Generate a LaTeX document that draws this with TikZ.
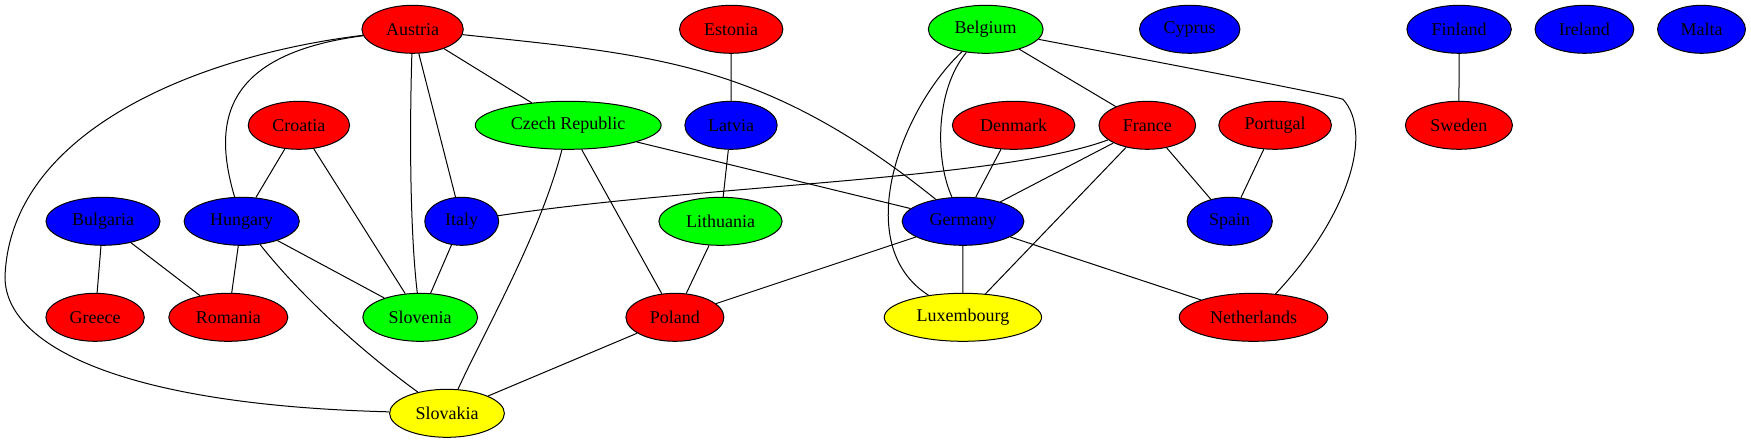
\documentclass[tikz,border=0pt]{standalone}
\usepackage{fontspec}
\setmainfont{Liberation Serif}
\usetikzlibrary{shapes.geometric}
\definecolor{CRed}{HTML}{FF0000}
\definecolor{CBlue}{HTML}{0000FF}
\definecolor{CGreen}{HTML}{00FF00}
\definecolor{CYellow}{HTML}{FFFF00}
\tikzset{
 country/.style={ellipse, draw=black, line width=0.75pt, inner sep=0pt, minimum height=36pt, font=\fontsize{13.5}{16}\selectfont},
 rednode/.style={country, fill=CRed},
 bluenode/.style={country, fill=CBlue},
 greennode/.style={country, fill=CGreen},
 yellownode/.style={country, fill=CYellow},
 edge/.style={draw=black, line width=0.75pt}
}
\begin{document}
\begin{tikzpicture}[x=0.75pt,y=-0.75pt]
\useasboundingbox (0,0) rectangle (1751,443);
% first row
\node[rednode, minimum width=76pt] (Austria) at (412.6,29.3) {Austria};
\node[rednode, minimum width=77.5pt] (Estonia) at (731.2,29.3) {Estonia};
\node[greennode, minimum width=86.1pt] (Belgium) at (985.7,29.3) {Belgium};
\node[bluenode, minimum width=75.3pt] (Cyprus) at (1189.7,29.3) {Cyprus};
\node[bluenode, minimum width=78.3pt] (Finland) at (1459.1,29.3) {Finland};
\node[bluenode, minimum width=74.1pt] (Ireland) at (1584.4,29.3) {Ireland};
\node[bluenode, minimum width=65.9pt] (Malta) at (1701.5,29.3) {Malta};
% second row
\node[rednode, minimum width=76pt] (Croatia) at (298.9,125.3) {Croatia};
\node[greennode, minimum width=139.4pt] (CzechRepublic) at (568.2,125.3) {Czech Republic};
\node[bluenode, minimum width=69.2pt] (Latvia) at (731,125.3) {Latvia};
\node[rednode, minimum width=91.9pt] (Denmark) at (1013.6,125.3) {Denmark};
\node[rednode, minimum width=72.5pt] (France) at (1147.3,125.3) {France};
\node[rednode, minimum width=84.5pt] (Portugal) at (1275.1,125.3) {Portugal};
\node[rednode, minimum width=80.3pt] (Sweden) at (1458.9,125.3) {Sweden};
% third row
\node[bluenode, minimum width=85.5pt] (Bulgaria) at (103,221.3) {Bulgaria};
\node[bluenode, minimum width=86.4pt] (Hungary) at (241.7,221.3) {Hungary};
\node[bluenode, minimum width=55.4pt] (Italy) at (461.7,221.3) {Italy};
\node[greennode, minimum width=92.4pt] (Lithuania) at (720.5,221.3) {Lithuania};
\node[bluenode, minimum width=91.3pt] (Germany) at (963,221.3) {Germany};
\node[bluenode, minimum width=63.9pt] (Spain) at (1229.7,221.3) {Spain};
% fourth row
\node[rednode, minimum width=73.8pt] (Greece) at (95.1,317.3) {Greece};
\node[rednode, minimum width=89.3pt] (Romania) at (228.3,317.3) {Romania};
\node[greennode, minimum width=86.1pt] (Slovenia) at (420.2,317.3) {Slovenia};
\node[rednode, minimum width=73.5pt] (Poland) at (674.9,317.3) {Poland};
\node[yellownode, minimum width=118pt] (Luxembourg) at (962.9,317.3) {Luxembourg};
\node[rednode, minimum width=111.4pt] (Netherlands) at (1253.5,317.3) {Netherlands};
% fifth row
\node[yellownode, minimum width=86.1pt] (Slovakia) at (447,413.3) {Slovakia};
% straight borders
\foreach \a/\b in {Austria/CzechRepublic, Austria/Italy, Croatia/Hungary, Croatia/Slovenia,
  CzechRepublic/Germany, CzechRepublic/Poland, Bulgaria/Greece, Bulgaria/Romania,
  Hungary/Romania, Hungary/Slovenia, Italy/Slovenia, Estonia/Latvia, Latvia/Lithuania,
  Lithuania/Poland, Poland/Slovakia, Poland/Germany, Belgium/France, Denmark/Germany,
  France/Germany, France/Luxembourg, France/Spain, Portugal/Spain, Germany/Luxembourg,
  Germany/Netherlands, Finland/Sweden}
  \draw[edge] (\a) -- (\b);
% curved borders
\draw[edge] (Austria) .. controls (200,55) and (10,130) .. (5,277) .. controls (5,345) and (120,405) .. (Slovakia);
\draw[edge] (Austria) .. controls (215,55) and (215,130) .. (Hungary);
\draw[edge] (Austria) .. controls (409,150) and (411,240) .. (Slovenia);
\draw[edge] (Austria) .. controls (653,55) and (764,61) .. (Germany);
\draw[edge] (CzechRepublic) .. controls (540,235) and (485,330) .. (Slovakia);
\draw[edge] (Hungary) .. controls (300,295) and (360,350) .. (Slovakia);
\draw[edge] (France) .. controls (1000,180) and (700,185) .. (Italy);
\draw[edge] (Belgium) .. controls (935,90) and (935,160) .. (Germany);
\draw[edge] (Belgium) .. controls (900,110) and (850,245) .. (Luxembourg);
\draw[edge] (Belgium) .. controls (1200,70) and (1330,95) .. (1343,99.3) .. controls (1375,135) and (1345,220) .. (Netherlands);
\end{tikzpicture}
\end{document}
